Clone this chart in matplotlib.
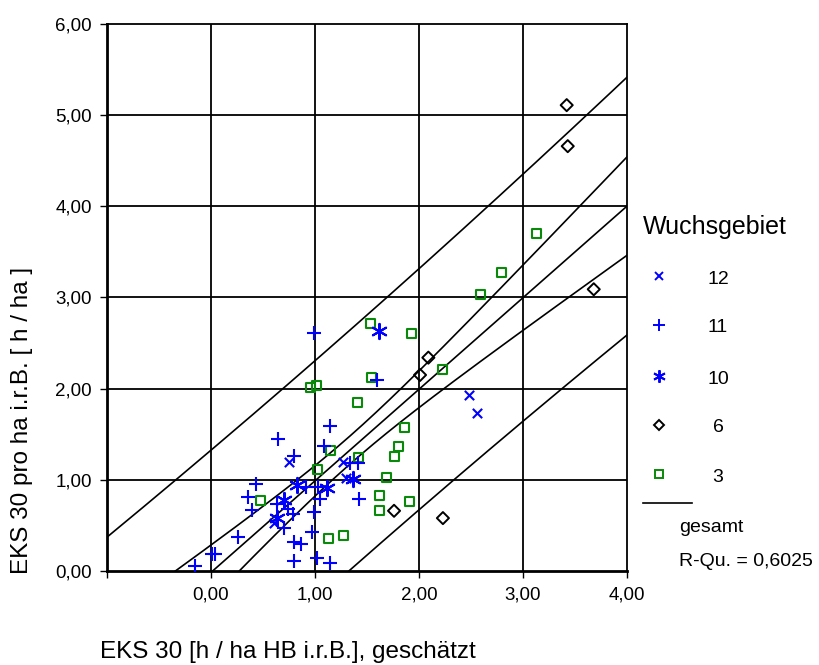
import numpy as np
import matplotlib
matplotlib.use("Agg")
import matplotlib.pyplot as plt
from matplotlib.lines import Line2D

plt.rcParams['font.family'] = ['Liberation Sans', 'DejaVu Sans']

# Wuchsgebiet 12 (x)
x12 = [2.48, 2.56, 0.75, 1.27, 1.30, 0.61]
y12 = [1.93, 1.73, 1.20, 1.19, 1.02, 0.53]
# Wuchsgebiet 11 (+)
x11 = [0.99, 1.60, 1.14, 0.64, 1.09, 0.80, 1.34, 1.41, 0.43, 0.91, 1.03, 1.42,
       0.36, 1.05, 0.63, 0.39, 0.74, 0.79, 0.99, 0.70, 0.97, 0.80, 0.87, 1.02,
       0.80, 1.14, 0.26, 0.01, 0.04, -0.15]
y11 = [2.61, 2.09, 1.59, 1.45, 1.37, 1.26, 1.18, 1.18, 0.95, 0.92, 0.92, 0.79,
       0.81, 0.79, 0.74, 0.67, 0.68, 0.62, 0.65, 0.47, 0.43, 0.32, 0.30, 0.14,
       0.11, 0.09, 0.37, 0.19, 0.19, 0.05]
# Wuchsgebiet 10 (asterisk)
x10 = [1.62, 0.83, 1.12, 1.37, 0.70, 0.63]
y10 = [2.63, 0.94, 0.91, 1.01, 0.78, 0.58]
# Wuchsgebiet 6 (diamond)
x6 = [3.42, 3.43, 3.68, 2.09, 2.01, 1.76, 2.23]
y6 = [5.11, 4.66, 3.09, 2.34, 2.15, 0.66, 0.58]
# Wuchsgebiet 3 (square)
x3 = [3.13, 2.79, 2.59, 1.53, 1.93, 2.23, 1.54, 0.96, 1.01, 1.41, 1.86, 1.80,
      1.76, 1.42, 1.15, 1.02, 1.69, 1.62, 1.91, 1.62, 1.27, 1.13, 0.48]
y3 = [3.70, 3.27, 3.03, 2.71, 2.61, 2.21, 2.12, 2.01, 2.04, 1.85, 1.57, 1.37,
      1.26, 1.25, 1.32, 1.11, 1.03, 0.83, 0.76, 0.66, 0.39, 0.36, 0.77]

r_squared_text = "R-Qu. = 0,6025"
x_ticks = [-1, 0, 1, 2, 3, 4]
x_tick_labels = ["", "0,00", "1,00", "2,00", "3,00", "4,00"]
y_ticks = [0, 1, 2, 3, 4, 5, 6]
y_tick_labels = ["0,00", "1,00", "2,00", "3,00", "4,00", "5,00", "6,00"]

# linear fit with mean-confidence and prediction bands (from all points)
xa = np.array(x12 + x11 + x10 + x6 + x3)
ya = np.array(y12 + y11 + y10 + y6 + y3)
n = len(xa)
b, a = np.polyfit(xa, ya, 1)
resid = ya - (a + b * xa)
s = np.sqrt(np.sum(resid ** 2) / (n - 2))
sxx = np.sum((xa - xa.mean()) ** 2)
t = 1.98
xs = np.linspace(-1, 4, 200)
fit = a + b * xs
se_mean = s * np.sqrt(1 / n + (xs - xa.mean()) ** 2 / sxx)
se_pred = s * np.sqrt(1 + 1 / n + (xs - xa.mean()) ** 2 / sxx)

fig = plt.figure(figsize=(8.19, 6.65), dpi=100)
ax = fig.add_axes([0.1306, 0.1414, 0.6350, 0.8225])

ax.set_xlim(-1, 4)
ax.set_ylim(0, 6)
ax.set_xticks(x_ticks)
ax.set_xticklabels(x_tick_labels, fontsize=13.5)
ax.set_yticks(y_ticks)
ax.set_yticklabels(y_tick_labels, fontsize=13.5)
ax.tick_params(axis='x', length=5, width=1, pad=6)
ax.tick_params(axis='y', length=5, width=1, pad=6)
for v in [0, 1, 2, 3]:
    ax.axvline(v, color='black', lw=1.3, zorder=1)
for v in [1, 2, 3, 4, 5]:
    ax.axhline(v, color='black', lw=1.3, zorder=1)
for side in ['top', 'right']:
    ax.spines[side].set_linewidth(1.3)
for side in ['left', 'bottom']:
    ax.spines[side].set_linewidth(2)

for yy in [fit, fit + t * se_mean, fit - t * se_mean,
           fit + t * se_pred, fit - t * se_pred]:
    ax.plot(xs, yy, color='black', lw=1.2, zorder=2)

green = '#0a8a0a'
ax.scatter(x3, y3, marker='s', s=42, facecolors='none', edgecolors=green,
           linewidths=1.5, zorder=3)
ax.scatter(x6, y6, marker='D', s=38, facecolors='none', edgecolors='black',
           linewidths=1.4, zorder=3)
ax.scatter(x10, y10, marker=(6, 2, 0), s=120, color='blue', linewidths=1.5, zorder=3)
ax.scatter(x11, y11, marker='+', s=110, color='blue', linewidths=1.5, zorder=3)
ax.scatter(x12, y12, marker='x', s=45, color='blue', linewidths=1.5, zorder=3)


def fx(px):
    return px / 819


def fy(py):
    return 1 - py / 665


fig.text(fx(100), fy(652), "EKS 30 [h / ha HB i.r.B.], geschätzt",
         fontsize=17.5, ha='left', va='center')
fig.text(fx(22), fy(420), "EKS 30 pro ha i.r.B. [ h / ha ]",
         fontsize=17.5, rotation=90, ha='center', va='center')

# legend drawn by hand at the right
fig.text(fx(643), fy(227), "Wuchsgebiet", fontsize=18, ha='left', va='center')
leg_items = [("12", 'x', 'blue', 'blue', 6),
             ("11", '+', 'blue', 'blue', 9),
             ("10", (6, 2, 0), 'blue', 'blue', 9),
             ("6", 'D', 'black', 'none', 5.5),
             ("3", 's', green, 'none', 6)]
rows = [276, 325, 376, 425, 474]
for (lab, mk, ec, fc, ms), ry in zip(leg_items, rows):
    fig.add_artist(Line2D([fx(659)], [fy(ry)], marker=mk, markersize=ms,
                          markeredgecolor=ec, markerfacecolor=fc,
                          markeredgewidth=1.4, linestyle='none'))
    fig.text(fx(718), fy(ry + 3), lab, fontsize=14, ha='center', va='center')
fig.add_artist(Line2D([fx(643), fx(692)], [fy(503), fy(503)], color='black', lw=1.2))
fig.text(fx(679), fy(528), "gesamt", fontsize=14, ha='left', va='center')
fig.text(fx(679), fy(562), r_squared_text, fontsize=14, ha='left', va='center')

fig.savefig("out.png", dpi=100)
